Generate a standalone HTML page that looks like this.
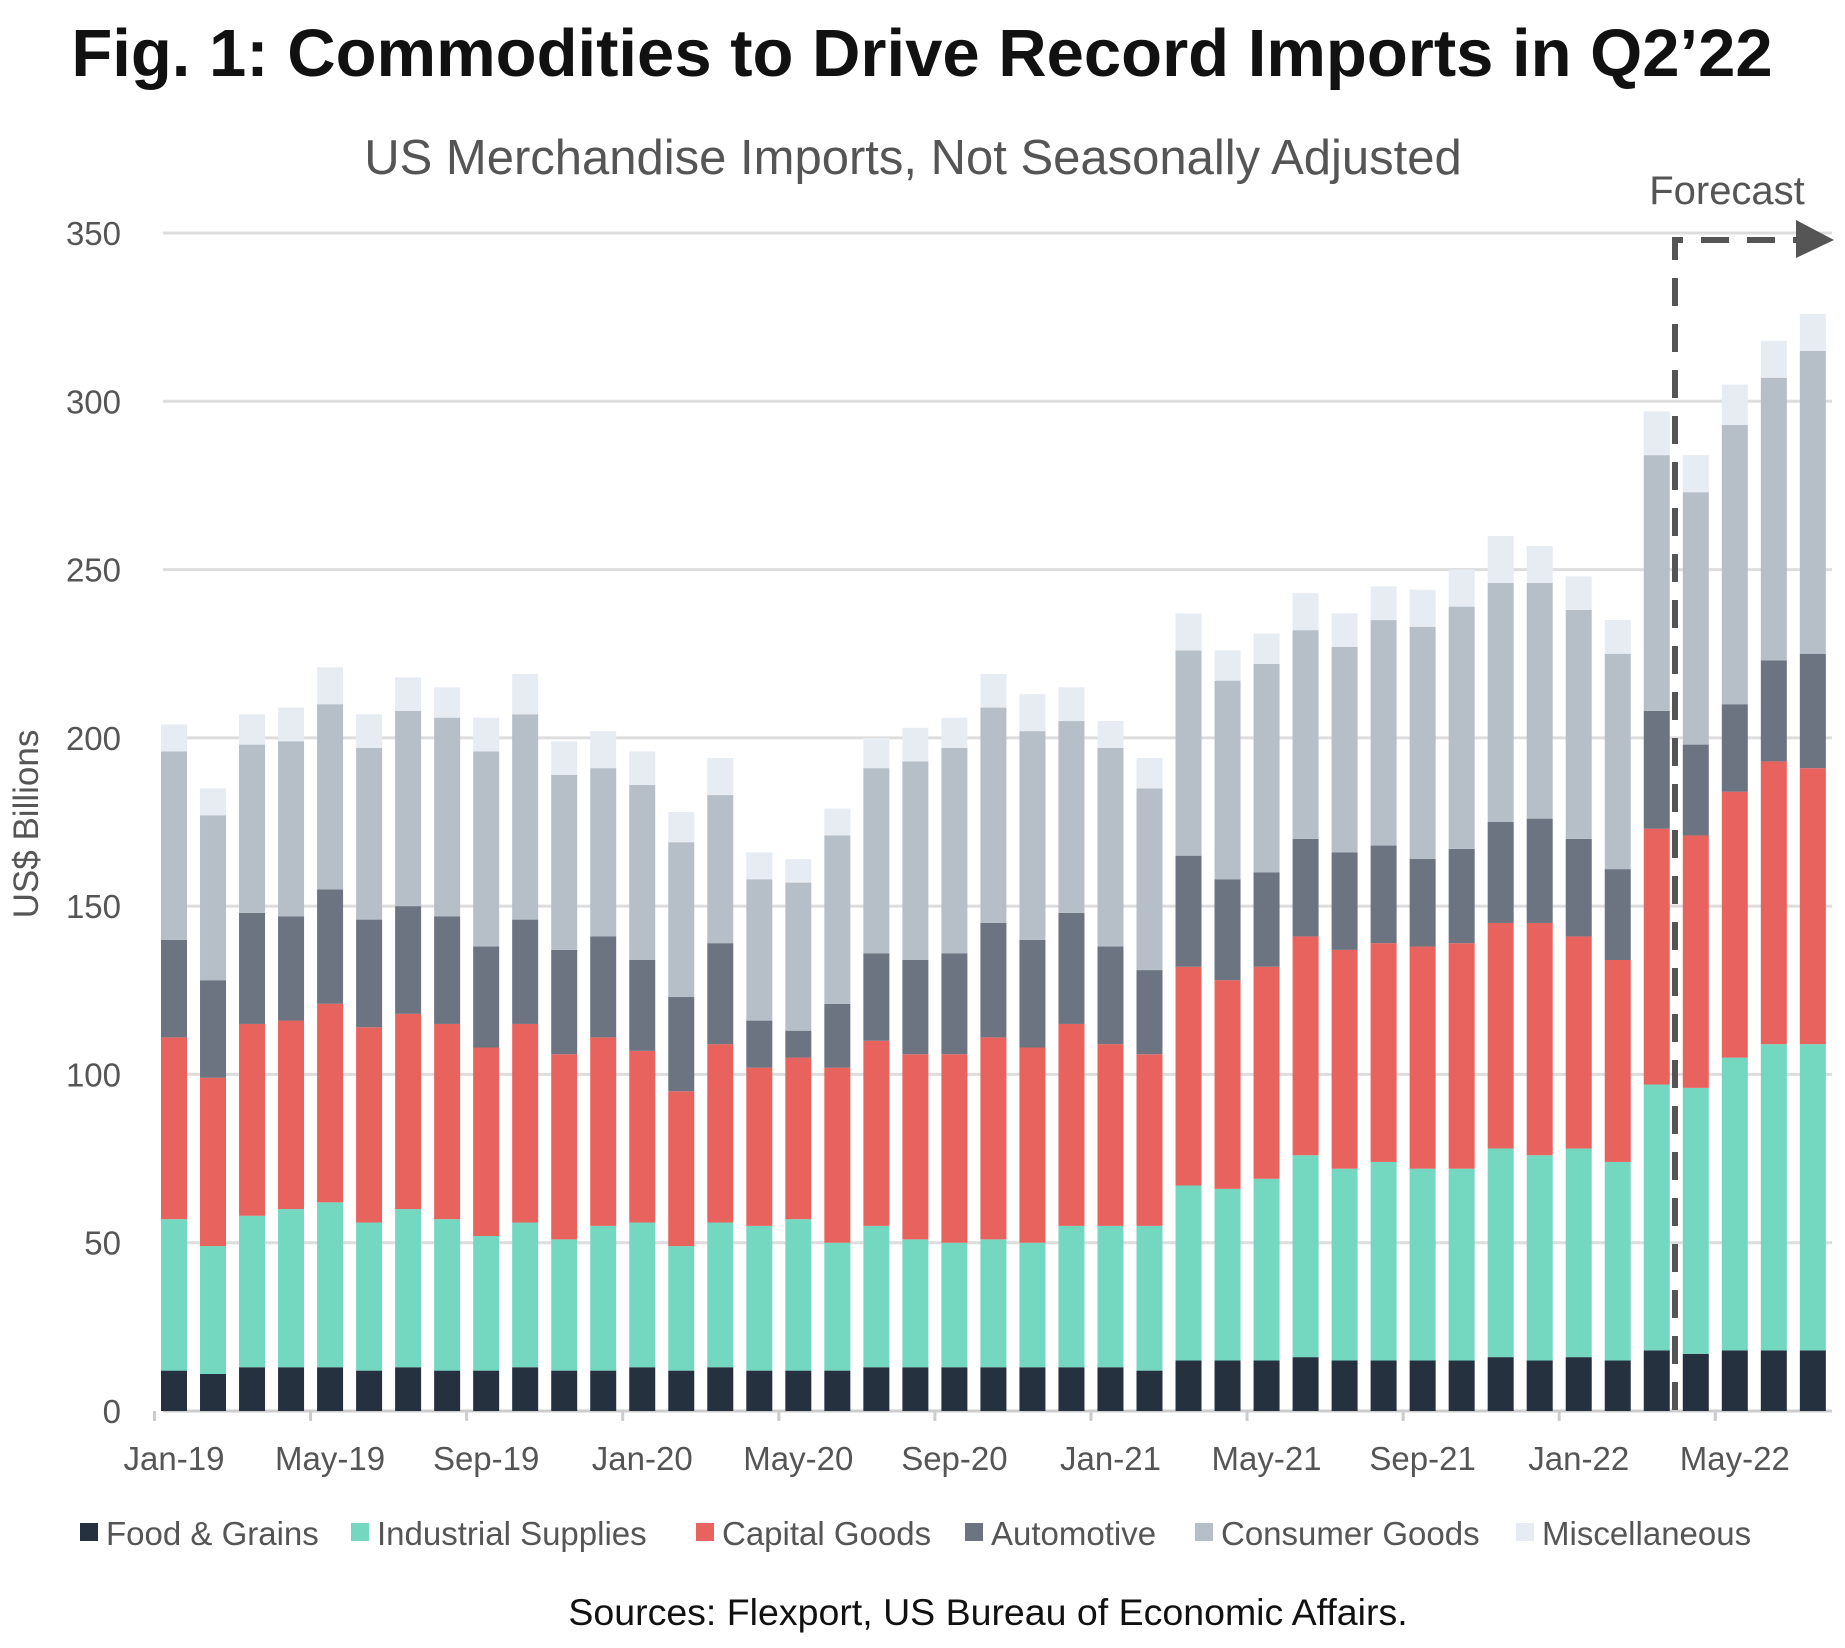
<!DOCTYPE html>
<html><head><meta charset="utf-8">
<style>
html,body{margin:0;padding:0;background:#fff;}
svg{display:block;font-family:"Liberation Sans",sans-serif;}
</style></head>
<body>
<svg id="chart" width="1845" height="1648" viewBox="0 0 1845 1648" xmlns="http://www.w3.org/2000/svg">
<text x="922" y="76" text-anchor="middle" font-size="67" font-weight="bold" fill="#111">Fig. 1: Commodities to Drive Record Imports in Q2’22</text>
<text x="913" y="174" text-anchor="middle" font-size="49" fill="#555">US Merchandise Imports, Not Seasonally Adjusted</text>
<text transform="translate(38,824) rotate(-90)" text-anchor="middle" font-size="35" fill="#555">US$ Billions</text>
<g id="grid"></g><g id="bars"></g><g id="xaxis"></g>
<g>
<text x="1727" y="204" text-anchor="middle" font-size="40" fill="#555">Forecast</text>
<path d="M1675,1410 L1675,240 L1800,240" fill="none" stroke="#555" stroke-width="6" stroke-dasharray="28,18"/>
<polygon points="1796,220 1834,240 1796,258" fill="#555"/>
</g>
<g id="legend"></g>
<text x="988" y="1625" text-anchor="middle" font-size="37.5" fill="#111">Sources: Flexport, US Bureau of Economic Affairs.</text>
</svg>
<script>
const months=["Jan-19","Feb-19","Mar-19","Apr-19","May-19","Jun-19","Jul-19","Aug-19","Sep-19","Oct-19","Nov-19","Dec-19","Jan-20","Feb-20","Mar-20","Apr-20","May-20","Jun-20","Jul-20","Aug-20","Sep-20","Oct-20","Nov-20","Dec-20","Jan-21","Feb-21","Mar-21","Apr-21","May-21","Jun-21","Jul-21","Aug-21","Sep-21","Oct-21","Nov-21","Dec-21","Jan-22","Feb-22","Mar-22","Apr-22","May-22","Jun-22","Jul-22"];
const food=[12,11,13,13,13,12,13,12,12,13,12,12,13,12,13,12,12,12,13,13,13,13,13,13,13,12,15,15,15,16,15,15,15,15,16,15,16,15,18,17,18,18,18];
const industrial=[45,38,45,47,49,44,47,45,40,43,39,43,43,37,43,43,45,38,42,38,37,38,37,42,42,43,52,51,54,60,57,59,57,57,62,61,62,59,79,79,87,91,91];
const capital=[54,50,57,56,59,58,58,58,56,59,55,56,51,46,53,47,48,52,55,55,56,60,58,60,54,51,65,62,63,65,65,65,66,67,67,69,63,60,76,75,79,84,82];
const automotive=[29,29,33,31,34,32,32,32,30,31,31,30,27,28,30,14,8,19,26,28,30,34,32,33,29,25,33,30,28,29,29,29,26,28,30,31,29,27,35,27,26,30,34];
const consumer=[56,49,50,52,55,51,58,59,58,61,52,50,52,46,44,42,44,50,55,59,61,64,62,57,59,54,61,59,62,62,61,67,69,72,71,70,68,64,76,75,83,84,90];
const misc=[8,8,9,10,11,10,10,9,10,12,10,11,10,9,11,8,7,8,9,10,9,10,11,10,8,9,11,9,9,11,10,10,11,11,14,11,10,10,13,11,12,11,11];
const yTicks=[0,50,100,150,200,250,300,350];
const seriesNames=["Food & Grains","Industrial Supplies","Capital Goods","Automotive","Consumer Goods","Miscellaneous"];

const NS="http://www.w3.org/2000/svg";
const colors=["#263140","#74d7c0","#e8625e","#6b7480","#b6bfc8","#e7ecf3"];
const series=[food,industrial,capital,automotive,consumer,misc];
const y0=1411,y350=233;
function yScale(v){return y0-(v/350)*(y0-y350);}
const x0=174,step=39.02,bw=26;
function xScale(i){return x0+i*step;}
function mk(tag,attrs,parent){const e=document.createElementNS(NS,tag);for(const k in attrs)e.setAttribute(k,attrs[k]);parent.appendChild(e);return e;}
const grid=document.getElementById('grid'),bars=document.getElementById('bars'),xa=document.getElementById('xaxis'),leg=document.getElementById('legend');
yTicks.forEach(t=>{
  const l=mk('line',{x1:163,x2:1832,y1:yScale(t),y2:yScale(t),stroke:t===0?'#ccc':'#ddd','stroke-width':3},grid);
  
  
  const tx=mk('text',{x:121,y:yScale(t)+12,'text-anchor':'end','font-size':33,fill:'#555'},grid);
  tx.textContent=t;
  
  
});
months.forEach((m,i)=>{
  let cum=0;
  series.forEach((s,k)=>{
    const v=s[i];
    const r=mk('rect',{x:xScale(i)-bw/2,y:yScale(cum+v),width:bw,height:yScale(cum)-yScale(cum+v),fill:colors[k]},bars);
    
    
    cum+=v;
  });
  if(i%4===0){
    const tk=mk('line',{x1:xScale(i)-step/2,x2:xScale(i)-step/2,y1:y0,y2:y0+10,stroke:'#ccc','stroke-width':3},xa);
    
    
    const tx=mk('text',{x:xScale(i),y:1470,'text-anchor':'middle','font-size':33,fill:'#555'},xa);
    tx.textContent=m;
    
    
  }
});
const legX=[88,359,704,973,1203,1524];
seriesNames.forEach((n,k)=>{
  const g=mk('g',{},leg);
  
  
  mk('rect',{x:legX[k]-8,y:1523,width:18,height:18,fill:colors[k]},g);
  const t=mk('text',{x:legX[k]+18,y:1545,'font-size':33,fill:'#555'},g);
  t.textContent=n;
});
</script>
</body></html>
